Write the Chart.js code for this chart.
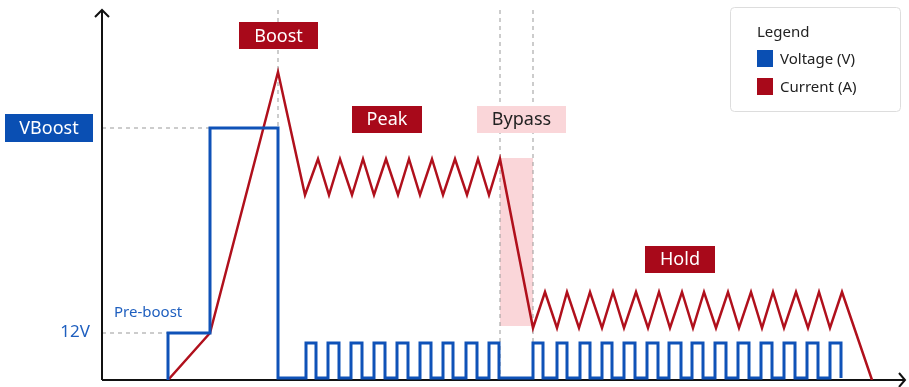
<!DOCTYPE html>
<html>
<head>
<meta charset="utf-8">
<script src="https://cdn.jsdelivr.net/npm/chart.js@4.4.1/dist/chart.umd.min.js"></script>
<style>
  html, body { margin: 0; padding: 0; background: #fff; }
  canvas { display: block; }
</style>
</head>
<body>
<canvas id="chart" width="909" height="387"></canvas>
<script>
// DATA (time units along x, arbitrary level units along y)
const voltTime = [66, 66, 108, 176,
  204, 214, 226, 237, 249, 260, 272, 283, 295, 306, 318, 329, 341, 351, 364, 375, 387, 397,
  431, 441, 455, 465, 478, 488, 500, 510, 522, 533, 545, 556, 567, 579, 590, 601,
  613, 624, 636, 647, 659, 670, 682, 693, 705, 716, 728, 739];
const voltLevel = [0, 47, 252, 2,
  37, 2, 37, 2, 37, 2, 37, 2, 37, 2, 37, 2, 37, 2, 37, 2, 37, 2,
  37, 2, 37, 2, 37, 2, 37, 2, 37, 2, 37, 2, 37, 2, 37, 2,
  37, 2, 37, 2, 37, 2, 37, 2, 37, 2, 37, 2];

const currTime = [66, 108, 176,
  203, 216, 227, 238, 250, 261, 272, 284, 296, 307, 318, 330, 341, 353, 365, 376, 387, 398,
  431, 443, 455, 465, 477, 488, 500, 511, 522, 534, 546, 557, 568, 580, 591, 602,
  614, 626, 637, 649, 660, 671, 682, 694, 706, 717, 728, 740, 770];
const currValue = [0, 47, 308,
  185, 221, 185, 221, 185, 221, 185, 221, 185, 221, 185, 221, 185, 221, 185, 221, 185, 221,
  52, 88, 52, 88, 52, 88, 52, 88, 52, 88, 52, 88, 52, 88, 52, 88,
  52, 88, 52, 88, 52, 88, 52, 88, 52, 88, 52, 88, 0];

// phase labels: [text, x, y, fill, text colour, width]
const phaseLabels = [
  ["Boost", 176.5, 344.5, "#a8091a", "#fff", 79],
  ["Peak", 285, 261, "#a8091a", "#fff", 70],
  ["Bypass", 419.5, 261, "#fad6d9", "#222", 89],
  ["Hold", 578, 121, "#a8091a", "#fff", 70],
];
const levelVBoost = 252;
const level12V = 47;
const bypassStart = 398;
const bypassEnd = 431;
const boostEnd = 176;
const preBoostStart = 66;
const preBoostEnd = 108;

const BLUE = "#0f52b8";
const RED = "#b0101c";
const FONT = "'Noto Sans', 'Open Sans', sans-serif";

const toPoints = (xs, ys) => xs.map((x, i) => ({ x: x, y: ys[i] }));

function dashedLine(c, x1, y1, x2, y2) {
  c.save();
  c.strokeStyle = "#9a9a9a";
  c.lineWidth = 1;
  c.setLineDash([4, 4]);
  c.beginPath();
  c.moveTo(x1, y1);
  c.lineTo(x2, y2);
  c.stroke();
  c.restore();
}

function labelBox(c, text, cx, cy, w, fill, color) {
  const h = 27;
  c.fillStyle = fill;
  c.fillRect(Math.round(cx - w / 2), Math.round(cy - h / 2), w, h);
  c.fillStyle = color;
  c.font = "18px " + FONT;
  c.textAlign = "center";
  c.textBaseline = "middle";
  c.fillText(text, cx, cy + 1);
}

const decorations = {
  id: "decorations",
  beforeDatasetsDraw(chart) {
    const c = chart.ctx;
    const xs = chart.scales.x, ys = chart.scales.y;
    const area = chart.chartArea;
    const X = v => xs.getPixelForValue(v);
    const Y = v => ys.getPixelForValue(v);

    // bypass shading
    c.save();
    c.fillStyle = "#fad6d9";
    c.fillRect(X(bypassStart), Y(222), X(bypassEnd) - X(bypassStart), Y(54) - Y(222));
    c.restore();

    // guide lines
    dashedLine(c, X(0), Y(levelVBoost), X(preBoostEnd), Y(levelVBoost));
    dashedLine(c, X(0), Y(level12V), X(preBoostStart), Y(level12V));
    dashedLine(c, X(boostEnd), 10, X(boostEnd), Y(levelVBoost));
    dashedLine(c, X(bypassStart), 10, X(bypassStart), area.bottom);
    dashedLine(c, X(bypassEnd), 10, X(bypassEnd), area.bottom);

    // axes with arrows
    c.save();
    c.strokeStyle = "#111";
    c.lineWidth = 2;
    c.beginPath();
    c.moveTo(area.left, area.bottom);
    c.lineTo(area.left, 10);
    c.moveTo(area.left - 7, 17);
    c.lineTo(area.left, 10);
    c.lineTo(area.left + 7, 17);
    c.moveTo(area.left, area.bottom);
    c.lineTo(area.right, area.bottom);
    c.moveTo(area.right - 6, area.bottom - 7);
    c.lineTo(area.right, area.bottom);
    c.lineTo(area.right - 6, area.bottom + 7);
    c.stroke();
    c.restore();
  },
  afterDatasetsDraw(chart) {
    const c = chart.ctx;
    const xs = chart.scales.x, ys = chart.scales.y;
    const X = v => xs.getPixelForValue(v);
    const Y = v => ys.getPixelForValue(v);
    c.save();

    phaseLabels.forEach(l => labelBox(c, l[0], X(l[1]), Y(l[2]), l[5], l[3], l[4]));

    // VBoost box in the left margin
    c.fillStyle = "#0a4fb3";
    c.fillRect(5, Math.round(Y(levelVBoost)) - 14, 88, 28);
    c.fillStyle = "#fff";
    c.font = "18px " + FONT;
    c.textAlign = "center";
    c.textBaseline = "middle";
    c.fillText("VBoost", 49, Y(levelVBoost) + 1);

    // 12V and Pre-boost
    c.fillStyle = "#1f5fbf";
    c.font = "17px " + FONT;
    c.textAlign = "right";
    c.fillText("12V", 90, Y(level12V) - 1);
    c.font = "15px " + FONT;
    c.textAlign = "left";
    c.fillText("Pre-boost", X(12), Y(67));

    // legend
    c.fillStyle = "#fff";
    c.strokeStyle = "#dddddd";
    c.lineWidth = 1;
    c.beginPath();
    c.roundRect(730.5, 7.5, 170, 104, 4);
    c.fill();
    c.stroke();
    c.fillStyle = "#222";
    c.font = "15px " + FONT;
    c.textAlign = "left";
    c.textBaseline = "middle";
    c.fillText("Legend", 757, 33);
    c.fillStyle = "#0a4fb3";
    c.fillRect(757, 50, 16, 17);
    c.fillStyle = "#a8091a";
    c.fillRect(757, 78, 16, 17);
    c.fillStyle = "#222";
    c.fillText("Voltage (V)", 780, 60);
    c.fillText("Current (A)", 780, 88);
    c.restore();
  },
};

new Chart(document.getElementById("chart"), {
  type: "line",
  data: {
    datasets: [
      {
        label: "Voltage (V)",
        data: toPoints(voltTime, voltLevel),
        borderColor: BLUE,
        borderWidth: 3,
        stepped: "before",
        pointRadius: 0,
        fill: false,
      },
      {
        label: "Current (A)",
        data: toPoints(currTime, currValue),
        borderColor: RED,
        borderWidth: 2.5,
        pointRadius: 0,
        fill: false,
        tension: 0,
      },
    ],
  },
  options: {
    responsive: false,
    animation: false,
    devicePixelRatio: 1,
    layout: { padding: { left: 102, right: 4, top: 12, bottom: 7 } },
    scales: {
      x: { type: "linear", min: 0, max: 803, display: false },
      y: { min: 0, max: 368, display: false },
    },
    plugins: {
      legend: { display: false },
      tooltip: { enabled: false },
    },
  },
  plugins: [decorations],
});
</script>
</body>
</html>
